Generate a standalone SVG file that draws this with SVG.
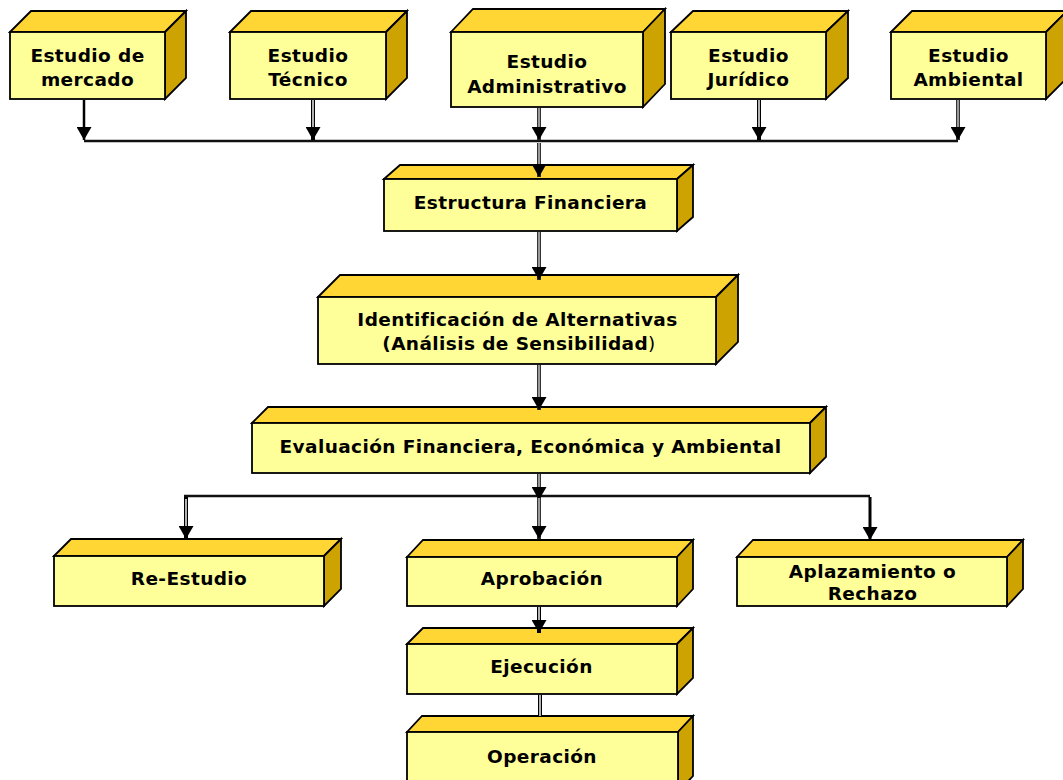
<svg xmlns="http://www.w3.org/2000/svg" width="1063" height="780" viewBox="0 0 1063 780">
<defs>
<style>
.front{fill:#FFFF99;stroke:#000;stroke-width:1.8;stroke-linejoin:miter}
.top{fill:#FFD633;stroke:#000;stroke-width:1.8;stroke-linejoin:miter}
.side{fill:#CCA300;stroke:#000;stroke-width:1.8;stroke-linejoin:miter}
text{font-family:"DejaVu Sans",Verdana,sans-serif;font-weight:bold;font-size:18.5px;letter-spacing:0.4px;fill:#000;text-anchor:middle}
.sol{fill:none;stroke:#000;stroke-width:2.5}
.solthick{fill:none;stroke:#000;stroke-width:3}
.dblo{fill:none;stroke:#000;stroke-width:4}
.dbli{fill:none;stroke:#fff;stroke-width:1.4}
.gryo{fill:none;stroke:#333;stroke-width:4}
.gryi{fill:none;stroke:#9a9a9a;stroke-width:2}
.hline{fill:none;stroke:#111;stroke-width:2.5}
</style>
<marker id="ah" markerUnits="userSpaceOnUse" markerWidth="14" markerHeight="15" refX="13" refY="7.5" orient="auto">
<path d="M0,0 L13,7.5 L0,15 Z" fill="#000"/>
</marker>
</defs>

<g id="node-mercado">
<polygon class="top" points="10,32 31,11 186,11 165,32"/>
<polygon class="side" points="165,32 186,11 186,78 165,99"/>
<rect class="front" x="10" y="32" width="155" height="67"/>
<text x="87.5" y="62">Estudio de</text>
<text x="87.5" y="86">mercado</text>
</g>

<g id="node-tecnico">
<polygon class="top" points="230,32 251,11 407,11 386,32"/>
<polygon class="side" points="386,32 407,11 407,78 386,99"/>
<rect class="front" x="230" y="32" width="156" height="67"/>
<text x="308" y="62">Estudio</text>
<text x="308" y="86">Técnico</text>
</g>

<g id="node-administrativo">
<polygon class="top" points="451,32 473,9 665,9 643,32"/>
<polygon class="side" points="643,32 665,9 665,84 643,107"/>
<rect class="front" x="451" y="32" width="192" height="75"/>
<text x="547" y="68">Estudio</text>
<text x="547" y="93">Administrativo</text>
</g>

<g id="node-juridico">
<polygon class="top" points="671,32 693,11 848,11 826,32"/>
<polygon class="side" points="826,32 848,11 848,78 826,99"/>
<rect class="front" x="671" y="32" width="155" height="67"/>
<text x="748.5" y="62">Estudio</text>
<text x="748.5" y="86">Jurídico</text>
</g>

<g id="node-ambiental">
<polygon class="top" points="891,32 912,11 1067,11 1046,32"/>
<polygon class="side" points="1046,32 1067,11 1067,78 1046,99"/>
<rect class="front" x="891" y="32" width="155" height="67"/>
<text x="968.5" y="62">Estudio</text>
<text x="968.5" y="86">Ambiental</text>
</g>

<g id="node-estructura">
<polygon class="top" points="384,179 400,165 693,165 677,179"/>
<polygon class="side" points="677,179 693,165 693,217 677,231"/>
<rect class="front" x="384" y="179" width="293" height="52"/>
<text x="530.5" y="209">Estructura Financiera</text>
</g>

<g id="node-identificacion">
<polygon class="top" points="318,297 340,275 738,275 716,297"/>
<polygon class="side" points="716,297 738,275 738,342 716,364"/>
<rect class="front" x="318" y="297" width="398" height="67"/>
<text x="517.5" y="326">Identificación de Alternativas</text>
<text x="519" y="350">(Análisis de Sensibilidad<tspan font-weight="normal">)</tspan></text>
</g>

<g id="node-evaluacion">
<polygon class="top" points="252,423 268,407 826,407 810,423"/>
<polygon class="side" points="810,423 826,407 826,457 810,473"/>
<rect class="front" x="252" y="423" width="558" height="50"/>
<text x="530.5" y="453">Evaluación Financiera, Económica y Ambiental</text>
</g>

<g id="node-reestudio">
<polygon class="top" points="54,556 71,539 341,539 324,556"/>
<polygon class="side" points="324,556 341,539 341,589 324,606"/>
<rect class="front" x="54" y="556" width="270" height="50"/>
<text x="189" y="585">Re-Estudio</text>
</g>

<g id="node-aprobacion">
<polygon class="top" points="407,557 423,540 693,540 677,557"/>
<polygon class="side" points="677,557 693,540 693,589 677,606"/>
<rect class="front" x="407" y="557" width="270" height="49"/>
<text x="542" y="585">Aprobación</text>
</g>

<g id="node-aplazamiento">
<polygon class="top" points="737,557 753,540 1023,540 1007,557"/>
<polygon class="side" points="1007,557 1023,540 1023,589 1007,606"/>
<rect class="front" x="737" y="557" width="270" height="49"/>
<text x="872.5" y="578">Aplazamiento o</text>
<text x="872.5" y="600">Rechazo</text>
</g>

<g id="node-ejecucion">
<polygon class="top" points="407,644 423,628 693,628 677,644"/>
<polygon class="side" points="677,644 693,628 693,678 677,694"/>
<rect class="front" x="407" y="644" width="270" height="50"/>
<text x="541.5" y="673">Ejecución</text>
</g>

<g id="node-operacion">
<polygon class="top" points="407,732 422,716 693,716 678,732"/>
<polygon class="side" points="678,732 693,716 693,776 678,792"/>
<rect class="front" x="407" y="732" width="271" height="60"/>
<text x="542" y="763">Operación</text>
</g>

<g id="connectors">
<path class="hline" d="M84,141 H958"/>
<path class="hline" d="M184,496 H870"/>

<path class="sol" d="M84,100 V140" marker-end="url(#ah)"/>

<path class="dblo" d="M313,100 V140" marker-end="url(#ah)"/>
<path class="dbli" d="M313,100 V127"/>

<path class="gryo" d="M539,108 V140" marker-end="url(#ah)"/>
<path class="gryi" d="M539,108 V127"/>
<path class="gryo" d="M539,143 V177" marker-end="url(#ah)"/>
<path class="gryi" d="M539,143 V164"/>

<path class="dblo" d="M759,100 V140" marker-end="url(#ah)"/>
<path class="dbli" d="M759,100 V127"/>

<path class="gryo" d="M958,100 V140" marker-end="url(#ah)"/>
<path class="gryi" d="M958,100 V127"/>

<path class="gryo" d="M539,232 V280" marker-end="url(#ah)"/>
<path class="gryi" d="M539,232 V267"/>

<path class="gryo" d="M539,365 V410" marker-end="url(#ah)"/>
<path class="gryi" d="M539,365 V397"/>

<path class="gryo" d="M539,474 V500" marker-end="url(#ah)"/>
<path class="gryi" d="M539,474 V487"/>
<path class="gryo" d="M539,498 V539" marker-end="url(#ah)"/>
<path class="gryi" d="M539,498 V526"/>

<path class="dblo" d="M186,497 V539" marker-end="url(#ah)"/>
<path class="dbli" d="M186,499 V526"/>

<path class="solthick" d="M870,497 V540" marker-end="url(#ah)"/>

<path class="dblo" d="M539,607 V633" marker-end="url(#ah)"/>
<path class="dbli" d="M539,607 V620"/>

<path class="dblo" d="M540,695 V716"/>
<path class="dbli" d="M540,695 V716"/>
</g>
</svg>
